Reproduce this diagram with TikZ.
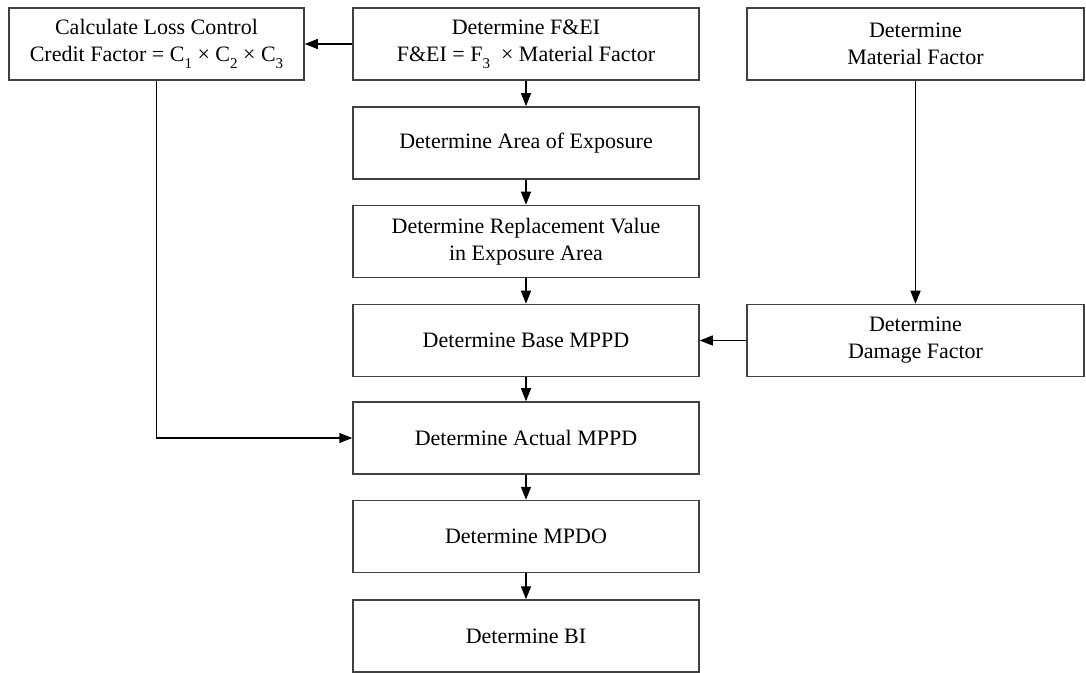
\documentclass[tikz,border=0pt]{standalone}
\usepackage{fontspec}
\setmainfont{Liberation Serif}
\usetikzlibrary{arrows.meta}

\newcommand{\lowsub}[1]{\raisebox{-3.3pt}{\fontsize{7.5}{8}\selectfont #1}}

\tikzset{
  stepbox/.style={draw=black!75, line width=0.75pt, fill=white, align=center,
    minimum height=36pt, inner sep=0pt, font=\fontsize{11}{13.5}\selectfont},
  leftcol/.style={stepbox, minimum width=147.5pt},
  midcol/.style={stepbox, minimum width=173pt},
  rightcol/.style={stepbox, minimum width=168.5pt},
  flow/.style={draw=black, line width=0.7pt, -{Triangle[length=6.5pt,width=5pt]}}
}

\begin{document}
\begin{tikzpicture}[x=0.5pt,y=-0.5pt]
  \useasboundingbox (0,0) rectangle (1086,673);
  % top row
  \node[leftcol] (loss) at (156.5,44) {Calculate Loss Control\\Credit Factor = C\lowsub{1} × C\lowsub{2} × C\lowsub{3}};
  \node[midcol] (fei) at (526,44) {Determine F\&EI\\F\&EI = F\lowsub{3} \ × Material Factor};
  \node[rightcol] (mat) at (915.5,44) {Determine\\Material Factor};
  % main column
  \node[midcol] (area) at (526,143) {Determine Area of Exposure};
  \node[midcol] (repl) at (526,241.5) {Determine Replacement Value\\in Exposure Area};
  \node[midcol] (base) at (526,340.5) {Determine Base MPPD};
  \node[rightcol] (dmg) at (915.5,340.5) {Determine\\Damage Factor};
  \node[midcol] (actual) at (526,438) {Determine Actual MPPD};
  \node[midcol] (mpdo) at (526,536.5) {Determine MPDO};
  \node[midcol] (bi) at (526,636) {Determine BI};
  % connectors
  \draw[flow] (fei) -- (loss);
  \draw[flow] (fei) -- (area);
  \draw[flow] (area) -- (repl);
  \draw[flow] (repl) -- (base);
  \draw[flow] (mat) -- (dmg);
  \draw[flow] (dmg) -- (base);
  \draw[flow] (base) -- (actual);
  \draw[flow] (loss) |- (actual);
  \draw[flow] (actual) -- (mpdo);
  \draw[flow] (mpdo) -- (bi);
\end{tikzpicture}
\end{document}
